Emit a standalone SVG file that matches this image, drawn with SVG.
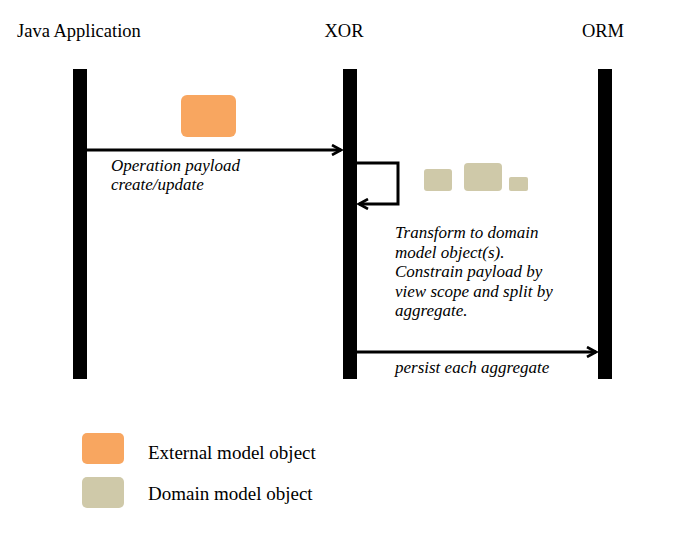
<svg xmlns="http://www.w3.org/2000/svg" width="696" height="536" viewBox="0 0 696 536">
<style>
.title{font-family:"Liberation Serif",serif;font-size:18.5px;fill:#000}
.lbl{font-family:"Liberation Serif",serif;font-style:italic;font-size:17px;fill:#000}
.leg{font-family:"Liberation Serif",serif;font-size:19px;fill:#000}
.bar{fill:#000}
.ext{fill:#F8A660}
.dom{fill:#CFC9A9}
.conn{fill:none;stroke:#000;stroke-width:3}
</style>
<defs>
<marker id="ah" viewBox="0 0 12 12" refX="10" refY="6" markerWidth="12" markerHeight="12" markerUnits="userSpaceOnUse" orient="auto">
<path d="M1,1 L10,6 L1,11" fill="none" stroke="#000" stroke-width="2.6"/>
</marker>
</defs>
<rect width="696" height="536" fill="#fff"/>
<g id="java">
<text class="title" x="17" y="37">Java Application</text>
<rect class="bar" x="73" y="69" width="14" height="310"/>
</g>
<g id="xor">
<text class="title" x="344" y="37" text-anchor="middle">XOR</text>
<rect class="bar" x="343" y="69" width="14" height="310"/>
</g>
<g id="orm">
<text class="title" x="603" y="37" text-anchor="middle">ORM</text>
<rect class="bar" x="598" y="69" width="14" height="310"/>
</g>
<g id="external-object">
<rect class="ext" x="181" y="95" width="55" height="42" rx="6"/>
</g>
<g id="domain-objects">
<rect class="dom" x="424" y="169" width="28" height="22" rx="3"/>
<rect class="dom" x="464" y="163" width="38" height="28" rx="4"/>
<rect class="dom" x="509" y="177" width="19" height="14" rx="2"/>
</g>
<g id="connectors">
<line class="conn" x1="87" y1="150" x2="341" y2="150" marker-end="url(#ah)"/>
<polyline class="conn" points="357,163 398,163 398,204 359,204" marker-end="url(#ah)"/>
<line class="conn" x1="357" y1="352" x2="596" y2="352" marker-end="url(#ah)"/>
</g>
<g id="labels">
<text class="lbl" x="111" y="171">Operation payload</text>
<text class="lbl" x="111" y="190">create/update</text>
<text class="lbl" x="395" y="238">Transform to domain</text>
<text class="lbl" x="395" y="258">model object(s).</text>
<text class="lbl" x="395" y="277">Constrain payload by</text>
<text class="lbl" x="395" y="297">view scope and split by</text>
<text class="lbl" x="395" y="316">aggregate.</text>
<text class="lbl" x="395" y="373">persist each aggregate</text>
</g>
<g id="legend">
<rect class="ext" x="82" y="433" width="42" height="31" rx="5"/>
<text class="leg" x="148" y="459">External model object</text>
<rect class="dom" x="82" y="477" width="42" height="31" rx="5"/>
<text class="leg" x="148" y="500">Domain model object</text>
</g>
</svg>
